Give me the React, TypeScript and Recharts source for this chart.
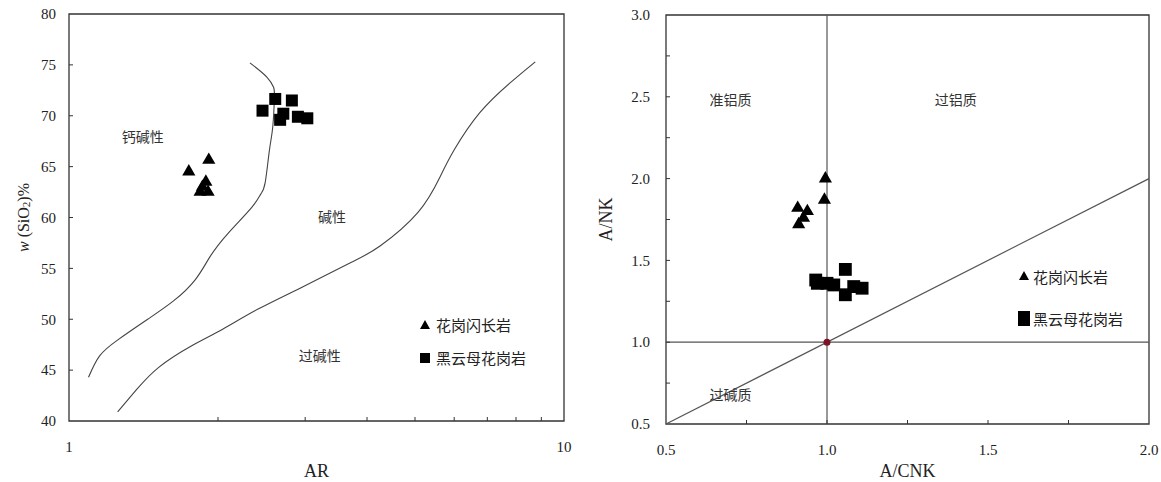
import React from "react";
import {
  Legend,
  ReferenceArea,
  ReferenceDot,
  ReferenceLine,
  Scatter,
  ScatterChart,
  Symbols,
  XAxis,
  YAxis,
} from "recharts";

// ---- left panel: AR vs SiO2 (log x) ----
const CALC_ALK_AR = [1.095, 1.153, 1.257, 1.442, 1.626, 1.8, 1.93, 2.1, 2.34, 2.44, 2.49, 2.54, 2.58, 2.6, 2.59, 2.51, 2.32];
const CALC_ALK_SIO2 = [44.3, 46.4, 48.0, 50.0, 51.8, 53.9, 56.2, 58.5, 61.0, 62.3, 63.4, 66.6, 68.9, 71.8, 72.8, 73.8, 75.2];
const PERALK_AR = [1.254, 1.37, 1.52, 1.77, 2.04, 2.41, 2.97, 3.72, 4.25, 5.07, 5.62, 6.01, 6.76, 7.77, 8.75];
const PERALK_SIO2 = [40.9, 43.1, 45.3, 47.4, 49.0, 51.0, 53.2, 55.6, 57.2, 60.5, 64.0, 66.7, 70.3, 73.2, 75.3];

const GD_AR = [1.746, 1.916, 1.89, 1.84, 1.91, 1.86];
const GD_SIO2 = [64.5, 65.65, 63.5, 62.5, 62.5, 63.0];
const BG_AR = [2.46, 2.61, 2.82, 2.71, 2.67, 2.9, 3.03];
const BG_SIO2 = [70.5, 71.65, 71.5, 70.2, 69.6, 69.9, 69.75];

const AR_TICKS = [1, 10];
const AR_MINOR = [2, 3, 4, 5, 6, 7, 8, 9];
const SIO2_TICKS = [40, 45, 50, 55, 60, 65, 70, 75, 80];
const SIO2_INNER = [45, 50, 55, 60, 65, 70, 75];

// ---- right panel: A/CNK vs A/NK ----
const GD_ACNK = [0.995, 0.992, 0.909, 0.939, 0.912, 0.927];
const GD_ANK = [2.0, 1.87, 1.82, 1.8, 1.72, 1.76];
const BG_ACNK = [0.965, 0.97, 1.0, 1.021, 1.057, 1.057, 1.083, 1.109];
const BG_ANK = [1.38, 1.36, 1.36, 1.35, 1.445, 1.29, 1.34, 1.33];

const ACNK_TICKS = [0.5, 1.0, 1.5, 2.0];
const ACNK_INNER = [0.75, 1.0, 1.25, 1.5, 1.75];
const ANK_TICKS = [0.5, 1.0, 1.5, 2.0, 2.5, 3.0];
const ANK_INNER = [0.75, 1.0, 1.25, 1.5, 1.75, 2.0, 2.25, 2.5, 2.75];

const LEGEND_NAMES = ["花岗闪长岩", "黑云母花岗岩"];

const pairs = (xs: number[], ys: number[]) => xs.map((x, i) => ({ x, y: ys[i] }));

const SERIF = '"Liberation Serif", "Times New Roman", serif';
const CJK = '"Noto Sans CJK SC", "Noto Sans", sans-serif';
const INK = "#333";

const regionLabel = { position: "center" as const, fontSize: 14, fontFamily: CJK, fill: "#333" };
const empty = () => <g />;
const triShape = (p: any) => <Symbols type="triangle" size={75} cx={p.cx} cy={p.cy} fill="#000" />;
const sqShape = (size: number) => (p: any) => (
  <Symbols type="square" size={size} cx={p.cx} cy={p.cy} fill="#000" />
);

// serif tick labels, vertical offset differs between x and y axes
const serifTick = (axis: "x" | "y", fmt?: (v: number) => string) => (p: any) => (
  <text
    x={p.x}
    y={p.y}
    dy={axis === "x" ? "0.71em" : "0.35em"}
    textAnchor={axis === "x" ? "middle" : "end"}
    fontSize={15}
    fontFamily={SERIF}
    fill="#222"
  >
    {fmt ? fmt(p.payload.value) : p.payload.value}
  </text>
);

function LegendRows({ rowH, bigSquare }: { rowH: number; bigSquare?: boolean }) {
  return (
    <div style={{ fontFamily: CJK, fontSize: 15, color: "#222", lineHeight: 1 }}>
      {LEGEND_NAMES.map((name, i) => (
        <div key={name} style={{ display: "flex", alignItems: "center", height: rowH }}>
          <svg width={bigSquare ? 14 : 12} height={16} style={{ marginRight: bigSquare ? 2 : 5 }}>
            {i === 0 ? (
              <polygon points={bigSquare ? "2,12 12,12 7,3" : "1,12 11,12 6,3"} fill="#000" />
            ) : bigSquare ? (
              <rect x={1} y={1} width={12} height={15} fill="#000" />
            ) : (
              <rect x={1} y={3} width={10} height={10} fill="#000" />
            )}
          </svg>
          <span>{name}</span>
        </div>
      ))}
    </div>
  );
}

const SiO2Label = ({ viewBox }: any) => {
  const cx = viewBox.x + 4;
  const cy = viewBox.y + viewBox.height / 2;
  return (
    <text
      transform={`translate(${cx},${cy}) rotate(-90)`}
      textAnchor="middle"
      dominantBaseline="central"
      fontFamily={SERIF}
      fontSize={16}
      fill="#222"
    >
      <tspan fontStyle="italic">w</tspan>
      <tspan> (SiO</tspan>
      <tspan fontSize={11} dy={3}>2</tspan>
      <tspan dy={-3}>)%</tspan>
    </text>
  );
};

const AnkLabel = ({ viewBox }: any) => {
  const cx = viewBox.x - 10;
  const cy = viewBox.y + viewBox.height / 2;
  return (
    <text
      transform={`translate(${cx},${cy}) rotate(-90)`}
      textAnchor="middle"
      dominantBaseline="central"
      fontFamily={SERIF}
      fontSize={18}
      fill="#222"
    >
      A/NK
    </text>
  );
};

function ArChart() {
  return (
    <ScatterChart width={580} height={482} margin={{ top: 14, right: 16, bottom: 21, left: 19 }}>
      <XAxis
        dataKey="x"
        type="number"
        scale="log"
        domain={[1, 10]}
        allowDataOverflow
        ticks={AR_TICKS}
        interval={0}
        height={40}
        axisLine={false}
        tickLine={false}
        tickSize={0}
        tickMargin={20}
        tick={serifTick("x")}
        label={{ value: "AR", position: "bottom", offset: 3, fontSize: 18, fontFamily: SERIF, fill: "#222" }}
      />
      <XAxis
        xAxisId="minor"
        dataKey="x"
        type="number"
        scale="log"
        domain={[1, 10]}
        allowDataOverflow
        ticks={AR_MINOR}
        interval={0}
        mirror
        height={1}
        axisLine={false}
        tickSize={4}
        tickLine={{ stroke: INK }}
        tick={empty}
      />
      <YAxis
        dataKey="y"
        type="number"
        domain={[40, 80]}
        allowDataOverflow
        ticks={SIO2_TICKS}
        interval={0}
        width={50}
        axisLine={false}
        tickLine={false}
        tickSize={0}
        tickMargin={13}
        tick={serifTick("y")}
        label={SiO2Label}
      />
      <YAxis
        yAxisId="minor"
        dataKey="y"
        type="number"
        domain={[40, 80]}
        allowDataOverflow
        ticks={SIO2_INNER}
        interval={0}
        mirror
        width={1}
        axisLine={false}
        tickSize={4}
        tickLine={{ stroke: INK }}
        tick={empty}
      />
      <ReferenceArea x1={1} x2={10} y1={40} y2={80} fill="none" stroke={INK} strokeWidth={1.3} />
      <Scatter
        data={pairs(CALC_ALK_AR, CALC_ALK_SIO2)}
        line={{ stroke: "#444", strokeWidth: 1.1 }}
        lineJointType="natural"
        shape={empty}
        legendType="none"
        isAnimationActive={false}
      />
      <Scatter
        data={pairs(PERALK_AR, PERALK_SIO2)}
        line={{ stroke: "#444", strokeWidth: 1.1 }}
        lineJointType="natural"
        shape={empty}
        legendType="none"
        isAnimationActive={false}
      />
      <Scatter name={LEGEND_NAMES[0]} data={pairs(GD_AR, GD_SIO2)} shape={triShape} isAnimationActive={false} />
      <Scatter name={LEGEND_NAMES[1]} data={pairs(BG_AR, BG_SIO2)} shape={sqShape(144)} isAnimationActive={false} />
      <ReferenceDot x={1.41} y={67.9} r={1} fill="none" stroke="none" label={{ value: "钙碱性", ...regionLabel }} />
      <ReferenceDot x={3.4} y={60.0} r={1} fill="none" stroke="none" label={{ value: "碱性", ...regionLabel }} />
      <ReferenceDot x={3.21} y={46.4} r={1} fill="none" stroke="none" label={{ value: "过碱性", ...regionLabel }} />
      <Legend
        layout="vertical"
        align="center"
        verticalAlign="middle"
        wrapperStyle={{ left: 419, top: 308, width: "auto" }}
        content={() => <LegendRows rowH={33} />}
      />
    </ScatterChart>
  );
}

function AcnkChart() {
  const fmt = (v: number) => v.toFixed(1);
  return (
    <ScatterChart width={581} height={482} margin={{ top: 15, right: 12, bottom: 18, left: 36 }}>
      <XAxis
        dataKey="x"
        type="number"
        domain={[0.5, 2.0]}
        allowDataOverflow
        ticks={ACNK_TICKS}
        interval={0}
        height={40}
        axisLine={false}
        tickLine={false}
        tickSize={0}
        tickMargin={20}
        tick={serifTick("x", fmt)}
        label={{ value: "A/CNK", position: "bottom", offset: 0, fontSize: 18, fontFamily: SERIF, fill: "#222" }}
      />
      <XAxis
        xAxisId="minor"
        dataKey="x"
        type="number"
        domain={[0.5, 2.0]}
        allowDataOverflow
        ticks={ACNK_INNER}
        interval={0}
        mirror
        height={1}
        axisLine={false}
        tickSize={4}
        tickLine={{ stroke: INK }}
        tick={empty}
      />
      <YAxis
        dataKey="y"
        type="number"
        domain={[0.5, 3.0]}
        allowDataOverflow
        ticks={ANK_TICKS}
        interval={0}
        width={50}
        axisLine={false}
        tickLine={false}
        tickSize={0}
        tickMargin={16}
        tick={serifTick("y", fmt)}
        label={AnkLabel}
      />
      <YAxis
        yAxisId="minor"
        dataKey="y"
        type="number"
        domain={[0.5, 3.0]}
        allowDataOverflow
        ticks={ANK_INNER}
        interval={0}
        mirror
        width={1}
        axisLine={false}
        tickSize={4}
        tickLine={{ stroke: INK }}
        tick={empty}
      />
      <ReferenceArea x1={0.5} x2={2.0} y1={0.5} y2={3.0} fill="none" stroke={INK} strokeWidth={1.3} />
      <ReferenceLine x={1.0} stroke="#555" strokeWidth={1.2} />
      <ReferenceLine y={1.0} stroke="#555" strokeWidth={1.2} />
      <ReferenceLine
        segment={[
          { x: 0.5, y: 0.5 },
          { x: 2.0, y: 2.0 },
        ]}
        stroke="#555"
        strokeWidth={1.2}
      />
      <ReferenceDot x={1.0} y={1.0} r={3.5} fill="#7a1424" stroke="none" />
      <Scatter name={LEGEND_NAMES[0]} data={pairs(GD_ACNK, GD_ANK)} shape={triShape} isAnimationActive={false} />
      <Scatter name={LEGEND_NAMES[1]} data={pairs(BG_ACNK, BG_ANK)} shape={sqShape(165)} isAnimationActive={false} />
      <ReferenceDot x={0.7} y={2.48} r={1} fill="none" stroke="none" label={{ value: "准铝质", ...regionLabel }} />
      <ReferenceDot x={1.4} y={2.48} r={1} fill="none" stroke="none" label={{ value: "过铝质", ...regionLabel }} />
      <ReferenceDot x={0.7} y={0.677} r={1} fill="none" stroke="none" label={{ value: "过碱质", ...regionLabel }} />
      <Legend
        layout="vertical"
        align="center"
        verticalAlign="middle"
        wrapperStyle={{ left: 437, top: 255, width: "auto" }}
        content={() => <LegendRows rowH={42} bigSquare />}
      />
    </ScatterChart>
  );
}

export default function App() {
  return (
    <div style={{ position: "absolute", left: 0, top: 0, width: 1161, height: 482, background: "#fff" }}>
      <div style={{ position: "absolute", left: 0, top: 0 }}>
        <ArChart />
      </div>
      <div style={{ position: "absolute", left: 580, top: 0 }}>
        <AcnkChart />
      </div>
    </div>
  );
}
